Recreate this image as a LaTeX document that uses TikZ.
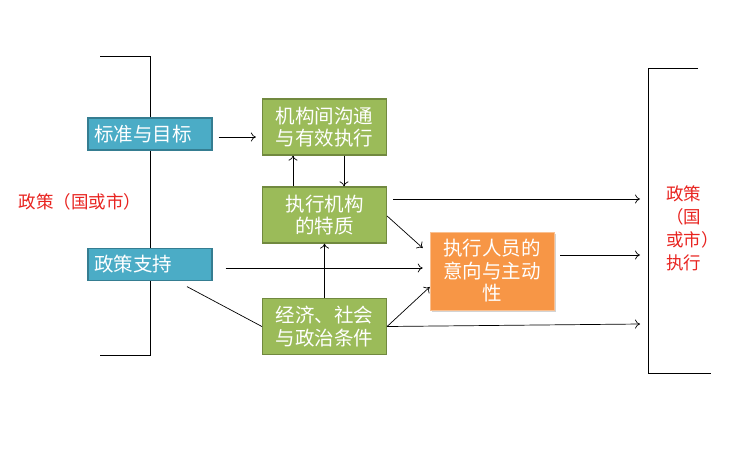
\documentclass[tikz,border=0pt]{standalone}
\usepackage{fontspec}
\setmainfont{Noto Sans CJK SC}
\usetikzlibrary{calc,shadows,arrows.meta}
\definecolor{bluefill}{HTML}{4BACC6}
\definecolor{blueedge}{HTML}{357D91}
\definecolor{greenfill}{HTML}{9BBB59}
\definecolor{greenedge}{HTML}{71893F}
\definecolor{orangefill}{HTML}{F79646}
\definecolor{redtext}{HTML}{E8231F}
\begin{document}
\begin{tikzpicture}[x=1pt,y=-1pt,
  box/.style={minimum width=124pt, inner sep=0pt, text=white,
    font=\fontsize{19.5}{22.5}\selectfont, align=center, line width=1.2pt},
  bluebox/.style={box, fill=bluefill, draw=blueedge, minimum height=32pt,
    text width=112pt, align=left},
  greenbox/.style={box, fill=greenfill, draw=greenedge, minimum height=56pt},
  orangebox/.style={box, fill=orangefill, draw=orangefill!60!white, line width=0.6pt,
    minimum height=78pt, drop shadow={opacity=0.35, shadow xshift=1.5pt, shadow yshift=-1.5pt}},
  redlabel/.style={text=redtext, font=\fontsize{17.5}{23}\selectfont, inner sep=0pt},
  arr/.style={-{To[length=5pt,width=9pt]}, line width=0.7pt},
  ln/.style={line width=0.8pt}]
\useasboundingbox (0,0) rectangle (739,448);
% brackets
\coordinate (lbt) at (150,56);
\coordinate (lbb) at (150,355);
\coordinate (rbt) at (648,68);
\coordinate (rbb) at (648,373);
\draw[ln] ($(lbt)+(-50,0)$) -- (lbt) -- (lbb) -- ($(lbb)+(-50,0)$);
\draw[ln] ($(rbt)+(50,0)$) -- (rbt) -- (rbb) -- ($(rbb)+(63,0)$);
% nodes
\node[bluebox] (std) at (150,134) {标准与目标};
\node[bluebox] (pol) at (150,264.5) {政策支持};
\node[greenbox] (inter) at (324.5,127) {机构间沟通\\与有效执行};
\node[greenbox] (exec) at (324.5,215) {执行机构\\的特质};
\node[greenbox] (econ) at (324.5,326.5) {经济、社会\\与政治条件};
\node[orangebox] (staff) at (492,271) {执行人员的\\意向与主动\\性};
\node[redlabel] (leftlab) at (80,202) {政策（国或市）};
\node[redlabel, align=left, anchor=west] (rightlab) at (666,228) {政策\\（国\\或市）\\执行};
% connectors
\draw[arr] ($(std.east)+(6,3)$) -- ($(inter.west |- std.east)+(-6,3)$);
\draw[arr] ($(exec.north)+(-31.5,0)$) -- ($(inter.south)+(-31.5,0)$);
\draw[arr] ($(inter.south)+(19.5,0)$) -- ($(exec.north)+(19.5,0)$);
\draw[arr] (econ.north) -- (exec.south);
\draw[arr] ($(exec.east)+(6,-16)$) -- ($(rbt |- exec.east)+(-8,-16)$);
\draw[arr] ($(exec.east)+(0,1)$) -- ($(staff.west)+(-7,-23)$);
\draw[arr] ($(pol.east)+(13,3.5)$) -- ($(staff.west |- pol.east)+(-7,3.5)$);
\draw[ln, line width=0.7pt] ($(pol.south)+(37,5.5)$) -- (econ.west);
\draw[arr] (econ.east) -- ($(staff.west)+(0,16)$);
\draw[arr] (econ.east) -- ($(rbt |- econ.east)+(-8,-2.5)$);
\draw[arr] ($(staff.east)+(6,-16)$) -- ($(rbt |- staff.east)+(-8,-16)$);
\end{tikzpicture}
\end{document}
